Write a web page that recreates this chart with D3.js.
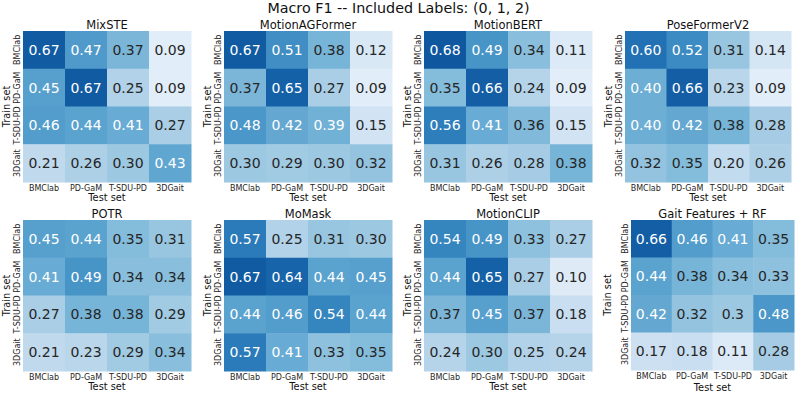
<!DOCTYPE html>
<html>
<head>
<meta charset="utf-8">
<script src="https://cdn.jsdelivr.net/npm/d3@7"></script>
<style>
  body { margin: 0; background: #fff; }
  text { font-family: "DejaVu Sans", sans-serif; }
</style>
</head>
<body>
<div id="chart"></div>
<script>
// dataset names (rows = train set, columns = test set)
const datasets = ["BMClab", "PD-GaM", "T-SDU-PD", "3DGait"];
const models = ["MixSTE", "MotionAGFormer", "MotionBERT", "PoseFormerV2",
                "POTR", "MoMask", "MotionCLIP", "Gait Features + RF"];

// macro F1 values, one 4x4 matrix per model
const mixste         = [[0.67, 0.47, 0.37, 0.09], [0.45, 0.67, 0.25, 0.09], [0.46, 0.44, 0.41, 0.27], [0.21, 0.26, 0.30, 0.43]];
const motionAGFormer = [[0.67, 0.51, 0.38, 0.12], [0.37, 0.65, 0.27, 0.09], [0.48, 0.42, 0.39, 0.15], [0.30, 0.29, 0.30, 0.32]];
const motionBERT     = [[0.68, 0.49, 0.34, 0.11], [0.35, 0.66, 0.24, 0.09], [0.56, 0.41, 0.36, 0.15], [0.31, 0.26, 0.28, 0.38]];
const poseFormerV2   = [[0.60, 0.52, 0.31, 0.14], [0.40, 0.66, 0.23, 0.09], [0.40, 0.42, 0.38, 0.28], [0.32, 0.35, 0.20, 0.26]];
const potr           = [[0.45, 0.44, 0.35, 0.31], [0.41, 0.49, 0.34, 0.34], [0.27, 0.38, 0.38, 0.29], [0.21, 0.23, 0.29, 0.34]];
const momask         = [[0.57, 0.25, 0.31, 0.30], [0.67, 0.64, 0.44, 0.45], [0.44, 0.46, 0.54, 0.44], [0.57, 0.41, 0.33, 0.35]];
const motionCLIP     = [[0.54, 0.49, 0.33, 0.27], [0.44, 0.65, 0.27, 0.10], [0.37, 0.45, 0.37, 0.18], [0.24, 0.30, 0.25, 0.24]];
const gaitRF         = [[0.66, 0.46, 0.41, 0.35], [0.44, 0.38, 0.34, 0.33], [0.42, 0.32, 0.3, 0.48], [0.17, 0.18, 0.11, 0.28]];

const matrices = [mixste, motionAGFormer, motionBERT, poseFormerV2, potr, momask, motionCLIP, gaitRF];
// the RF panel prints raw numbers instead of 2 decimals
const rawLabels = ["Gait Features + RF"];

const W = 797, H = 395;

// panel boxes (heatmap area)
const panels = [
  {x: 23,  y: 31,  w: 168, h: 151},
  {x: 224, y: 31,  w: 168, h: 151},
  {x: 424, y: 31,  w: 168, h: 151},
  {x: 625, y: 31,  w: 166, h: 151},
  {x: 23,  y: 220, w: 168, h: 151},
  {x: 224, y: 220, w: 168, h: 151},
  {x: 424, y: 220, w: 168, h: 151},
  {x: 631, y: 220, w: 163, h: 150}
];

const color = d3.scaleSequential(d3.interpolateBlues).domain([0, 0.8]);
const fmt = d3.format(".2f");

const svg = d3.select("#chart").append("svg")
  .attr("width", W)
  .attr("height", H);

svg.append("text")
  .attr("x", W / 2)
  .attr("y", 13)
  .attr("text-anchor", "middle")
  .style("font-size", "14.3px")
  .attr("fill", "#111")
  .text("Macro F1 -- Included Labels: (0, 1, 2)");

models.forEach((name, k) => {
  let p = panels[k];
  let mat = matrices[k];
  let g = svg.append("g").attr("transform", "translate(" + p.x + "," + p.y + ")");

  let x = d3.scaleBand().domain(datasets).range([0, p.w]);
  let y = d3.scaleBand().domain(datasets).range([0, p.h]);

  let cells = [];
  mat.forEach((row, i) => row.forEach((v, j) => {
    cells.push({train: datasets[i], test: datasets[j], v: v});
  }));

  g.selectAll("rect")
    .data(cells)
    .enter().append("rect")
    .attr("x", d => x(d.test))
    .attr("y", d => y(d.train))
    .attr("width", x.bandwidth() + 0.5)
    .attr("height", y.bandwidth() + 0.5)
    .attr("fill", d => color(d.v));

  g.selectAll(".ann")
    .data(cells)
    .enter().append("text")
    .attr("class", "ann")
    .attr("x", d => x(d.test) + x.bandwidth() / 2)
    .attr("y", d => y(d.train) + y.bandwidth() / 2)
    .attr("text-anchor", "middle")
    .attr("dy", "0.36em")
    .style("font-size", "14px")
    .attr("fill", d => d.v >= 0.385 ? "#ffffff" : "#262626")
    .text(d => rawLabels.includes(name) ? String(d.v) : fmt(d.v));

  // axes (no tick lines, like seaborn)
  let xAxis = d3.axisBottom(x).tickSize(0).tickPadding(3);
  let gx = g.append("g")
    .attr("transform", "translate(0," + p.h + ")")
    .call(xAxis);
  gx.select(".domain").remove();
  gx.selectAll("text")
    .style("font-size", "8px")
    .style("font-family", "DejaVu Sans")
    .attr("fill", "#262626");

  let yAxis = d3.axisLeft(y).tickSize(0);
  let gy = g.append("g").call(yAxis);
  gy.select(".domain").remove();
  // rotate each label around its row centre
  gy.selectAll(".tick text")
    .style("font-size", "8px")
    .style("font-family", "DejaVu Sans")
    .attr("fill", "#262626")
    .attr("text-anchor", "middle")
    .attr("transform", "translate(-3.5,0) rotate(-90)")
    .attr("x", 0)
    .attr("y", 0)
    .attr("dy", 0);

  g.append("text")
    .attr("x", p.w / 2)
    .attr("y", -2)
    .attr("text-anchor", "middle")
    .style("font-size", "11.5px")
    .attr("fill", "#111")
    .text(name);

  g.append("text")
    .attr("x", p.w / 2)
    .attr("y", p.h + (k == 7 ? 21 : 18.5))
    .attr("text-anchor", "middle")
    .style("font-size", "9.8px")
    .attr("fill", "#111")
    .text("Test set");

  g.append("text")
    .attr("transform", "translate(" + (k == 7 ? -20 : -13) + "," + (p.h / 2) + ") rotate(-90)")
    .attr("text-anchor", "middle")
    .style("font-size", "9.8px")
    .attr("fill", "#111")
    .text("Train set");
});
</script>
</body>
</html>
